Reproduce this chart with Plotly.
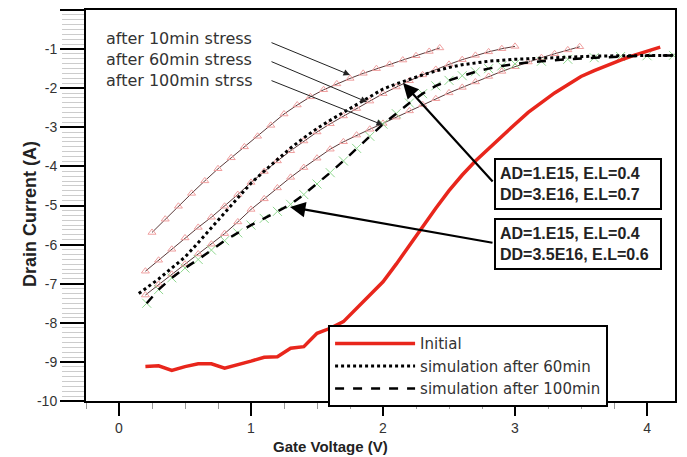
import plotly.graph_objects as go

# ---------------- data ----------------
v_init = [0.2, 0.3, 0.4, 0.5, 0.6, 0.7, 0.8, 0.9, 1.0, 1.1, 1.2, 1.3, 1.4, 1.5, 1.6, 1.7, 1.8,
          1.9, 2.0, 2.1, 2.2, 2.3, 2.4, 2.5, 2.6, 2.7, 2.8, 2.9, 3.0, 3.1, 3.2, 3.3, 3.4, 3.5,
          3.6, 3.7, 3.8, 3.9, 4.0, 4.1]
i_init = [-9.12, -9.10, -9.22, -9.12, -9.05, -9.05, -9.16, -9.08, -8.98, -8.88, -8.87, -8.65,
          -8.61, -8.27, -8.14, -7.97, -7.62, -7.30, -6.95, -6.50, -6.02, -5.54, -5.07, -4.62,
          -4.22, -3.86, -3.54, -3.22, -2.92, -2.62, -2.37, -2.12, -1.91, -1.70, -1.55, -1.41,
          -1.28, -1.16, -1.05, -0.95]

v_10 = [0.25, 0.35, 0.45, 0.55, 0.65, 0.75, 0.85, 0.95, 1.05, 1.15, 1.25, 1.35, 1.45, 1.55,
        1.65, 1.75, 1.85, 1.95, 2.05, 2.15, 2.25, 2.35, 2.43]
i_10 = [-5.69, -5.35, -5.02, -4.69, -4.37, -4.06, -3.78, -3.50, -3.23, -2.95, -2.66, -2.43,
        -2.22, -2.04, -1.89, -1.75, -1.62, -1.50, -1.39, -1.28, -1.17, -1.06, -0.97]

v_60 = [0.2, 0.3, 0.4, 0.5, 0.6, 0.7, 0.8, 0.9, 1.0, 1.1, 1.2, 1.3, 1.4, 1.5, 1.6, 1.7, 1.8,
        1.9, 2.0, 2.1, 2.2, 2.3, 2.4, 2.5, 2.6, 2.7, 2.8, 2.9, 3.0]
i_60 = [-6.68, -6.40, -6.12, -5.83, -5.56, -5.30, -5.02, -4.72, -4.41, -4.13, -3.86, -3.60,
        -3.35, -3.12, -2.91, -2.71, -2.52, -2.33, -2.14, -1.97, -1.81, -1.66, -1.52, -1.39,
        -1.27, -1.16, -1.07, -0.99, -0.93]

v_100 = [0.2, 0.3, 0.4, 0.5, 0.6, 0.7, 0.8, 0.9, 1.0, 1.1, 1.2, 1.3, 1.4, 1.5, 1.6, 1.7, 1.8,
         1.9, 2.0, 2.1, 2.2, 2.3, 2.4, 2.5, 2.6, 2.7, 2.8, 2.9, 3.0, 3.1, 3.2, 3.3, 3.4, 3.49]
i_100 = [-7.29, -7.02, -6.76, -6.50, -6.24, -5.99, -5.72, -5.42, -5.10, -4.83, -4.55, -4.28,
         -4.03, -3.79, -3.56, -3.37, -3.20, -3.05, -2.90, -2.74, -2.58, -2.42, -2.27, -2.12,
         -1.98, -1.84, -1.70, -1.57, -1.45, -1.33, -1.22, -1.12, -1.02, -0.94]

v_sim60 = [0.15, 0.3, 0.4, 0.5, 0.6, 0.7, 0.8, 0.9, 1.0, 1.1, 1.2, 1.3, 1.4, 1.5, 1.6, 1.7,
           1.8, 1.9, 2.0, 2.1, 2.2, 2.3, 2.4, 2.5, 2.6, 2.8, 3.0, 3.2, 3.4, 3.6, 3.8, 4.0, 4.2]
i_sim60 = [-7.25, -6.88, -6.60, -6.32, -5.95, -5.57, -5.18, -4.80, -4.43, -4.12, -3.82, -3.53,
           -3.27, -3.03, -2.82, -2.62, -2.43, -2.22, -2.02, -1.89, -1.77, -1.66, -1.56, -1.47,
           -1.40, -1.31, -1.26, -1.23, -1.20, -1.18, -1.17, -1.16, -1.16]

v_sim100 = [0.21, 0.3, 0.4, 0.5, 0.6, 0.7, 0.8, 0.9, 1.0, 1.1, 1.2, 1.3, 1.4, 1.5, 1.6, 1.7,
            1.8, 1.9, 2.0, 2.1, 2.2, 2.3, 2.4, 2.5, 2.6, 2.7, 2.8, 2.9, 3.0, 3.2, 3.4, 3.6,
            3.8, 4.0, 4.2]
i_sim100 = [-7.50, -7.15, -6.85, -6.60, -6.38, -6.14, -5.90, -5.70, -5.50, -5.33, -5.15, -4.97,
            -4.72, -4.45, -4.16, -3.86, -3.54, -3.23, -2.92, -2.65, -2.38, -2.14, -1.94, -1.80,
            -1.68, -1.58, -1.50, -1.43, -1.38, -1.31, -1.26, -1.22, -1.19, -1.17, -1.16]

x_ticks = [0, 1, 2, 3, 4]
y_ticks = [0, -1, -2, -3, -4, -5, -6, -7, -8, -9, -10]

stress_labels = ["after 10min stress", "after 60min stress", "after 100min strss"]
box_texts = ["AD=1.E15, E.L=0.4<br>DD=3.E16, E.L=0.7",
             "AD=1.E15, E.L=0.4<br>DD=3.5E16, E.L=0.6"]

# ---------------- figure ----------------
fig = go.Figure()

stress_line = dict(color="#5a3a3a", width=1)
stress_marker = dict(symbol="triangle-up-open", size=7, color="#f0a0a0", line=dict(width=1))
for vx, iy in [(v_10, i_10), (v_60, i_60), (v_100, i_100)]:
    fig.add_trace(go.Scatter(x=vx, y=iy, mode="lines+markers", line=stress_line,
                             marker=stress_marker, showlegend=False))

# green measurement crosses along the simulation
fig.add_trace(go.Scatter(x=v_sim100, y=i_sim100, mode="markers", showlegend=False,
                         marker=dict(symbol="x-thin-open", size=9, color="#8fd88f",
                                     line=dict(width=1, color="#8fd88f"))))

fig.add_trace(go.Scatter(x=v_init, y=i_init, mode="lines", name="Initial",
                         line=dict(color="#e8261c", width=3.5)))
fig.add_trace(go.Scatter(x=v_sim60, y=i_sim60, mode="lines", name="simulation after 60min",
                         line=dict(color="black", width=3, dash="dot")))
fig.add_trace(go.Scatter(x=v_sim100, y=i_sim100, mode="lines", name="simulation after 100min",
                         line=dict(color="black", width=2.5, dash="dash")))

# pixel helpers in page coordinates (only for placing annotations)
def dx(px):
    return (px - 119) / 132.0

def dy(py):
    return -(py - 10) / 39.1

ann = []
# stress labels as one three-line block + thin arrows
ann.append(dict(x=dx(104), y=dy(59.5), xref="x", yref="y", text="<br>".join(stress_labels),
                showarrow=False, xanchor="left", yanchor="middle", align="left",
                font=dict(family="DejaVu Sans", size=16, color="#333333")))
heads = [(350, 75), (367, 102), (383, 125)]
tails = [(270, 42), (270, 61), (270, 80)]
for hd, tl in zip(heads, tails):
    ann.append(dict(x=dx(hd[0]), y=dy(hd[1]), ax=dx(tl[0]), ay=dy(tl[1]),
                    xref="x", yref="y", axref="x", ayref="y", text="", showarrow=True,
                    arrowhead=2, arrowsize=1.3, arrowwidth=1, arrowcolor="#222222"))

# parameter boxes
box_centers = [(578, 184), (578, 244)]
for txt, (cx, cy) in zip(box_texts, box_centers):
    ann.append(dict(x=dx(cx), y=dy(cy), xref="x", yref="y", text=txt, showarrow=False,
                    align="left", width=156, height=40, borderpad=4,
                    bordercolor="black", borderwidth=2, bgcolor="white",
                    font=dict(family="Liberation Sans", size=16, color="#222222",
                              weight="bold")))

# thick arrows from boxes
big = [((403, 83), (494, 183)), ((290, 207), (494, 243))]
for hd, tl in big:
    ann.append(dict(x=dx(hd[0]), y=dy(hd[1]), ax=dx(tl[0]), ay=dy(tl[1]),
                    xref="x", yref="y", axref="x", ayref="y", text="", showarrow=True,
                    arrowhead=2, arrowsize=1.4, arrowwidth=2.2, arrowcolor="black"))

# axis titles
ann.append(dict(x=dx(330), y=-0.117, xref="x", yref="paper", text="<b>Gate Voltage (V)</b>",
                showarrow=False, xanchor="center", yanchor="middle",
                font=dict(family="Liberation Sans", size=15, color="#222222")))
ann.append(dict(x=-0.095, y=dy(214), xref="paper", yref="y", text="<b>Drain Current (A)</b>",
                showarrow=False, textangle=-90, xanchor="center", yanchor="middle",
                font=dict(family="Liberation Sans", size=18, color="#222222")))

# the page body has an 8px margin, so the figure is 8px smaller and margins shifted
fig.update_layout(
    width=679, height=449,
    margin=dict(l=78, r=12, t=2, b=56, autoexpand=False),
    paper_bgcolor="white", plot_bgcolor="white",
    annotations=ann,
    showlegend=True,
    legend=dict(x=0.411, y=0.194, xanchor="left", yanchor="top",
                bgcolor="white", bordercolor="black", borderwidth=2,
                font=dict(family="DejaVu Sans", size=15, color="#333333"),
                itemwidth=80, tracegroupgap=0),
)

fig.update_xaxes(
    automargin=False,
    range=[-0.25, 4.212], showgrid=False, zeroline=False,
    showline=True, linecolor="black", linewidth=2, mirror=True,
    tickmode="array", tickvals=x_ticks, ticktext=[str(t) for t in x_ticks],
    ticks="outside", ticklen=13, tickwidth=2, tickcolor="black",
    tickfont=dict(family="Liberation Sans Narrow, Liberation Sans", size=14, color="#333333"),
    minor=dict(ticks="outside", dtick=0.25, tick0=0, ticklen=6, tickcolor="#999999",
               tickwidth=1),
)
fig.update_yaxes(
    automargin=False,
    range=[-10, 0], showgrid=False, zeroline=False,
    showline=True, linecolor="black", linewidth=2, mirror=True,
    tickmode="array", tickvals=y_ticks, ticktext=[str(t) for t in y_ticks],
    ticks="outside", ticklen=24, tickwidth=2, tickcolor="black",
    tickfont=dict(family="Liberation Sans", size=14, color="#333333"),
    minor=dict(ticks="outside", dtick=0.125, tick0=0, ticklen=22, tickcolor="#cccccc",
               tickwidth=1),
)

fig.write_html("out.html")
